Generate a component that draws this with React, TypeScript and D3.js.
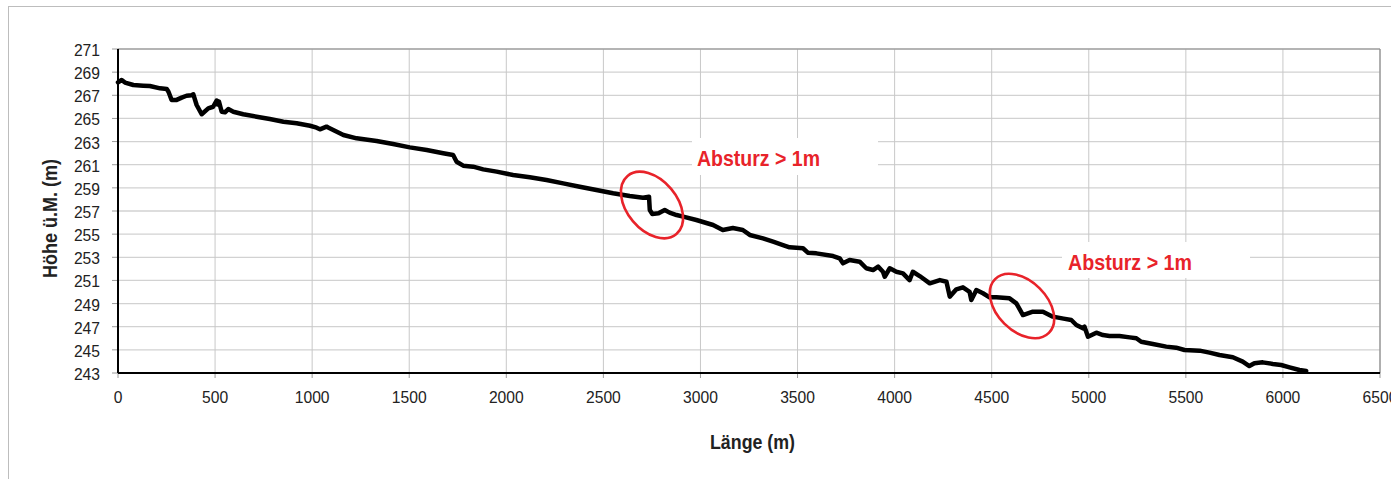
import React from "react";
import * as d3 from "d3";

const distances = [
  0, 19, 36, 79, 130, 164, 217, 251, 260, 276, 302, 328, 353, 379, 388, 405, 431, 465, 490, 508, 514, 520, 534,
  551, 568, 594, 645, 714, 782, 852, 920, 989, 1023, 1040, 1074, 1085, 1161, 1229, 1332, 1417, 1503, 1590,
  1675, 1726, 1744, 1778, 1829, 1881, 1950, 2035, 2121, 2207, 2293, 2378, 2464, 2550, 2636, 2704, 2735, 2739,
  2752, 2784, 2816, 2841, 2877, 2911, 2979, 3065, 3115, 3167, 3218, 3254, 3322, 3374, 3425, 3459, 3528, 3553,
  3597, 3683, 3717, 3734, 3768, 3820, 3854, 3889, 3915, 3940, 3949, 3975, 4009, 4043, 4077, 4094, 4129, 4181,
  4233, 4267, 4284, 4318, 4352, 4386, 4395, 4421, 4455, 4489, 4524, 4592, 4627, 4661, 4712, 4764, 4815, 4870,
  4910, 4936, 4970, 4978, 4996, 5039, 5073, 5107, 5158, 5211, 5245, 5270, 5330, 5399, 5450, 5493, 5571, 5622,
  5673, 5742, 5793, 5827, 5853, 5896, 5948, 5991, 6034, 6085, 6120,
];

const elevations = [
  268.12, 268.32, 268.1, 267.89, 267.83, 267.8, 267.6, 267.54, 267.3, 266.6, 266.6, 266.8, 266.96, 267.0, 267.08,
  266.16, 265.36, 265.87, 266.01, 266.55, 266.2, 266.45, 265.58,
  265.53, 265.81, 265.58, 265.36, 265.15, 264.95, 264.72, 264.58, 264.37, 264.2, 264.06, 264.29, 264.2, 263.57,
  263.28, 263.05, 262.79, 262.5, 262.27,
  261.99, 261.84, 261.26, 260.92, 260.83, 260.6, 260.4, 260.11, 259.91, 259.68, 259.39, 259.1, 258.81, 258.53,
  258.3, 258.15, 258.24, 257.09,
  256.74, 256.8, 257.09, 256.86, 256.65, 256.51, 256.22, 255.79, 255.36, 255.53, 255.36, 254.93, 254.64, 254.35,
  254.06, 253.86, 253.78, 253.4,
  253.34, 253.11, 252.91, 252.48, 252.77, 252.62, 252.05, 251.9, 252.19, 251.75, 251.32, 252.05, 251.75, 251.61,
  251.03, 251.75, 251.38, 250.75,
  251.03, 250.89, 249.6, 250.23, 250.4, 250.02, 249.31, 250.17, 249.89, 249.54, 249.54, 249.45, 249.02, 248.01,
  248.3, 248.3, 247.87, 247.7,
  247.58, 247.15, 246.86, 247.0, 246.14, 246.48, 246.28, 246.2, 246.2, 246.08, 246.0, 245.7, 245.51, 245.28,
  245.19, 244.99, 244.93, 244.76,
  244.56, 244.36, 243.98, 243.6, 243.84, 243.92, 243.78, 243.69, 243.49, 243.26, 243.17,
];

const xTicks = [0, 500, 1000, 1500, 2000, 2500, 3000, 3500, 4000, 4500, 5000, 5500, 6000, 6500];
const yTicks = [243, 245, 247, 249, 251, 253, 255, 257, 259, 261, 263, 265, 267, 269, 271];

const xTitle = "Länge (m)";
const yTitle = "Höhe ü.M. (m)";
const annotationText = "Absturz > 1m";

const FONT = "'Liberation Sans', Arial, sans-serif";

export default function App() {
  const W = 1391;
  const H = 479;
  const x = d3.scaleLinear().domain([0, 6500]).range([118, 1380]);
  const y = d3.scaleLinear().domain([243, 271]).range([373, 49]);

  const pts: [number, number][] = distances.map((d, i) => [d, elevations[i]]);
  const line = d3
    .line<[number, number]>()
    .x((d) => x(d[0]))
    .y((d) => y(d[1]));

  const x0 = x(0), x1 = x(6500), yb = y(243), yt = y(271);
  const digitW = 8.7;

  return (
    <svg width={W} height={H} style={{ position: "absolute", left: 0, top: 0, background: "#fff" }}>
      <rect x={0} y={0} width={W} height={H} fill="#fff" />
      {/* outer chart frame */}
      <rect x={8.5} y={6.5} width={W + 20} height={H + 20} fill="none" stroke="#bdbdbd" strokeWidth={1} />

      {/* grid */}
      {yTicks.map((t) => (
        <line key={"gy" + t} x1={x0} x2={x1} y1={y(t)} y2={y(t)} stroke="#d2d2d2" strokeWidth={1.3} />
      ))}
      {xTicks.map((t) => (
        <line key={"gx" + t} x1={x(t)} x2={x(t)} y1={yt} y2={yb} stroke="#c8c8c8" strokeWidth={1} />
      ))}

      {/* plot frame top/right */}
      <line x1={x0} x2={x1} y1={yt} y2={yt} stroke="#8c8c8c" strokeWidth={1.2} />
      <line x1={x1} x2={x1} y1={yt} y2={yb} stroke="#8c8c8c" strokeWidth={1.2} />

      {/* annotation white boxes */}
      <rect x={692} y={138} width={186} height={37} fill="#fff" />
      <rect x={1062} y={242} width={188} height={36} fill="#fff" />

      {/* tick marks */}
      {yTicks.map((t) => (
        <line key={"ty" + t} x1={x0 - 6} x2={x0} y1={y(t)} y2={y(t)} stroke="#9a9a9a" strokeWidth={1} />
      ))}
      {xTicks.map((t) => (
        <line key={"tx" + t} x1={x(t)} x2={x(t)} y1={yb} y2={yb + 5} stroke="#9a9a9a" strokeWidth={1} />
      ))}

      {/* axes */}
      <line x1={x0} x2={x0} y1={yt} y2={yb} stroke="#000" strokeWidth={2} />
      <line x1={x0} x2={x1} y1={yb} y2={yb} stroke="#000" strokeWidth={2} />

      {/* tick labels */}
      {yTicks.map((t) => (
        <text
          key={"ly" + t}
          x={100}
          y={y(t) + 7}
          textAnchor="end"
          fontFamily={FONT}
          fontSize={17}
          fill="#222"
          textLength={String(t).length * digitW}
          lengthAdjust="spacingAndGlyphs"
        >
          {t}
        </text>
      ))}
      {xTicks.map((t) => (
        <text
          key={"lx" + t}
          x={x(t)}
          y={403}
          textAnchor="middle"
          fontFamily={FONT}
          fontSize={17}
          fill="#222"
          textLength={String(t).length * digitW}
          lengthAdjust="spacingAndGlyphs"
        >
          {t}
        </text>
      ))}

      {/* data line */}
      <path d={line(pts) || ""} fill="none" stroke="#000" strokeWidth={4.5} strokeLinejoin="round" strokeLinecap="round" />

      {/* annotations */}
      <ellipse cx={652} cy={205} rx={38} ry={25} transform="rotate(50 652 205)" fill="none" stroke="#e8232a" strokeWidth={2.6} />
      <ellipse cx={1022} cy={306} rx={38} ry={25} transform="rotate(45 1022 306)" fill="none" stroke="#e8232a" strokeWidth={2.6} />
      <text x={697} y={166} fontFamily={FONT} fontWeight="bold" fontSize={22} fill="#e8232a" textLength={123} lengthAdjust="spacingAndGlyphs">
        {annotationText}
      </text>
      <text x={1068} y={270} fontFamily={FONT} fontWeight="bold" fontSize={22} fill="#e8232a" textLength={124} lengthAdjust="spacingAndGlyphs">
        {annotationText}
      </text>

      {/* axis titles */}
      <text x={710} y={449} fontFamily={FONT} fontWeight="bold" fontSize={20} fill="#222" textLength={85} lengthAdjust="spacingAndGlyphs">
        {xTitle}
      </text>
      <text
        transform={`translate(57 ${278}) rotate(-90)`}
        fontFamily={FONT}
        fontWeight="bold"
        fontSize={20}
        fill="#222"
        textLength={119}
        lengthAdjust="spacingAndGlyphs"
      >
        {yTitle}
      </text>
    </svg>
  );
}
